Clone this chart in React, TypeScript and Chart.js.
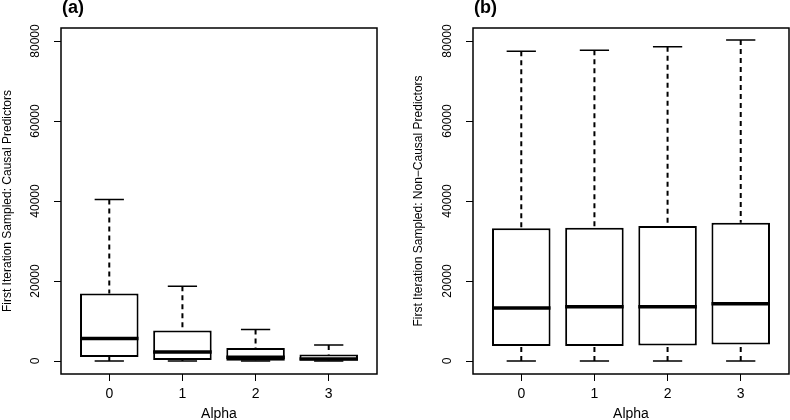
import React, { useEffect, useRef } from 'react';
import { Chart, registerables } from 'chart.js';

Chart.register(...registerables);

const FONT = '"Liberation Sans", Arial, Helvetica, sans-serif';

const categories = ['0', '1', '2', '3'];
const yTickValues = [0, 20000, 40000, 60000, 80000];

// Panel (a): causal predictors
const causalMin = [0, 0, 0, 0];
const causalQ1 = [1000, 250, 80, 100];
const causalMedian = [5600, 2250, 920, 500];
const causalQ3 = [16850, 7600, 3250, 1650];
const causalMax = [40400, 18700, 7900, 4000];

// Panel (b): non-causal predictors
const nonCausalMin = [0, 0, 0, 0];
const nonCausalQ1 = [3750, 3750, 3900, 4150];
const nonCausalMedian = [13250, 13580, 13580, 14330];
const nonCausalQ3 = [33170, 33330, 33750, 34580];
const nonCausalMax = [77420, 77670, 78580, 80250];

const titleA = 'First Iteration Sampled: Causal Predictors';
const titleB = 'First Iteration Sampled: Non\u2212Causal Predictors';

type Stats = { mins: number[]; q1s: number[]; medians: number[]; q3s: number[]; maxs: number[] };

const boxPlugin = {
  id: 'rbox',
  afterDatasetsDraw(chart: any, _args: any, opts: any) {
    const ctx: CanvasRenderingContext2D = chart.ctx;
    const ys = chart.scales.y;
    const meta = chart.getDatasetMeta(0);
    const st: Stats = opts.stats;
    ctx.save();
    ctx.strokeStyle = '#000';
    ctx.lineCap = 'butt';
    meta.data.forEach((bar: any, i: number) => {
      const { x, width } = bar.getProps(['x', 'width'], true);
      const yMin = ys.getPixelForValue(st.mins[i]);
      const yQ1 = ys.getPixelForValue(st.q1s[i]);
      const yMed = ys.getPixelForValue(st.medians[i]);
      const yQ3 = ys.getPixelForValue(st.q3s[i]);
      const yMax = ys.getPixelForValue(st.maxs[i]);
      // whiskers (dashed)
      ctx.setLineDash([5, 4]);
      ctx.lineWidth = 2;
      ctx.beginPath();
      ctx.moveTo(x, yMax);
      ctx.lineTo(x, yQ3);
      ctx.moveTo(x, yMin);
      ctx.lineTo(x, yQ1);
      ctx.stroke();
      ctx.setLineDash([]);
      // staples
      ctx.lineWidth = 1.5;
      ctx.beginPath();
      ctx.moveTo(x - width / 4, yMax);
      ctx.lineTo(x + width / 4, yMax);
      ctx.moveTo(x - width / 4, yMin);
      ctx.lineTo(x + width / 4, yMin);
      ctx.stroke();
      // median
      ctx.lineWidth = 3.5;
      ctx.beginPath();
      ctx.moveTo(x - width / 2, yMed);
      ctx.lineTo(x + width / 2, yMed);
      ctx.stroke();
    });
    const a = chart.chartArea;
    ctx.lineWidth = 1.5;
    ctx.strokeRect(a.left, a.top, a.right - a.left, a.bottom - a.top);
    ctx.fillStyle = '#000';
    ctx.font = 'bold 18px ' + FONT;
    ctx.textAlign = 'left';
    ctx.textBaseline = 'middle';
    ctx.fillText(opts.label, a.left + 1, 8);
    ctx.restore();
  },
};

type PanelProps = {
  label: string;
  yTitle: string;
  stats: Stats;
  left: number;
  yAxisWidth: number;
  titlePad: number;
  rightPad: number;
};

function Panel({ label, yTitle, stats, left, yAxisWidth, titlePad, rightPad }: PanelProps) {
  const ref = useRef<HTMLCanvasElement | null>(null);
  useEffect(() => {
    if (!ref.current) return;
    const grid = {
      drawOnChartArea: false,
      drawTicks: true,
      tickLength: 7,
      color: '#000',
      lineWidth: 1,
      offset: false,
    };
    const chart = new Chart(ref.current, {
      type: 'bar',
      data: {
        datasets: [
          {
            data: categories.map((_, i) => ({ x: i, y: [stats.q1s[i], stats.q3s[i]] })) as any,
            backgroundColor: '#fff',
            borderColor: '#000',
            borderWidth: 2,
            borderSkipped: false,
            barPercentage: 0.8,
            categoryPercentage: 1,
          },
        ],
      },
      options: {
        animation: false,
        responsive: false,
        layout: { padding: { top: 28, right: rightPad, left: 0, bottom: 0 } },
        plugins: {
          legend: { display: false },
          tooltip: { enabled: false },
          rbox: { stats, label },
        } as any,
        scales: {
          x: {
            type: 'linear',
            min: -0.66,
            max: 3.66,
            offset: false,
            afterBuildTicks: (s: any) => {
              s.ticks = categories.map((_, i) => ({ value: i }));
            },
            afterFit: (s: any) => {
              s.height = 46;
            },
            ticks: {
              callback: (v: any) => categories[v] ?? '',
              font: { size: 14, family: FONT },
              color: '#000',
              padding: 5,
              autoSkip: false,
              maxRotation: 0,
            },
            grid,
            border: { display: false },
            title: {
              display: true,
              text: 'Alpha',
              font: { size: 14, family: FONT },
              color: '#000',
              padding: { top: 0, bottom: -3 },
            },
          } as any,
          y: {
            type: 'linear',
            min: -3250,
            max: 83250,
            afterBuildTicks: (s: any) => {
              s.ticks = yTickValues.map((v) => ({ value: v }));
            },
            afterFit: (s: any) => {
              s.width = yAxisWidth;
            },
            ticks: {
              callback: (v: any) => String(v),
              minRotation: 90,
              maxRotation: 90,
              crossAlign: 'center',
              padding: 2,
              font: { size: 12, family: FONT },
              color: '#000',
            },
            grid,
            border: { display: false },
            title: {
              display: true,
              text: yTitle,
              font: { size: 12, family: FONT },
              color: '#000',
              padding: { top: titlePad, bottom: 0 },
            },
          } as any,
        },
      },
      plugins: [boxPlugin],
    });
    return () => chart.destroy();
  }, []);
  return (
    <div style={{ position: 'absolute', left, top: 0, width: 395, height: 420 }}>
      <canvas ref={ref} width={395} height={420} style={{ display: 'block' }} />
    </div>
  );
}

export default function App() {
  return (
    <div style={{ position: 'fixed', left: 0, top: 0, width: 790, height: 420, background: '#fff' }}>
      <Panel
        label="(a)"
        yTitle={titleA}
        stats={{ mins: causalMin, q1s: causalQ1, medians: causalMedian, q3s: causalQ3, maxs: causalMax }}
        left={0}
        yAxisWidth={61}
        titlePad={0}
        rightPad={18}
      />
      <Panel
        label="(b)"
        yTitle={titleB}
        stats={{ mins: nonCausalMin, q1s: nonCausalQ1, medians: nonCausalMedian, q3s: nonCausalQ3, maxs: nonCausalMax }}
        left={395}
        yAxisWidth={78}
        titlePad={16.5}
        rightPad={1}
      />
    </div>
  );
}
